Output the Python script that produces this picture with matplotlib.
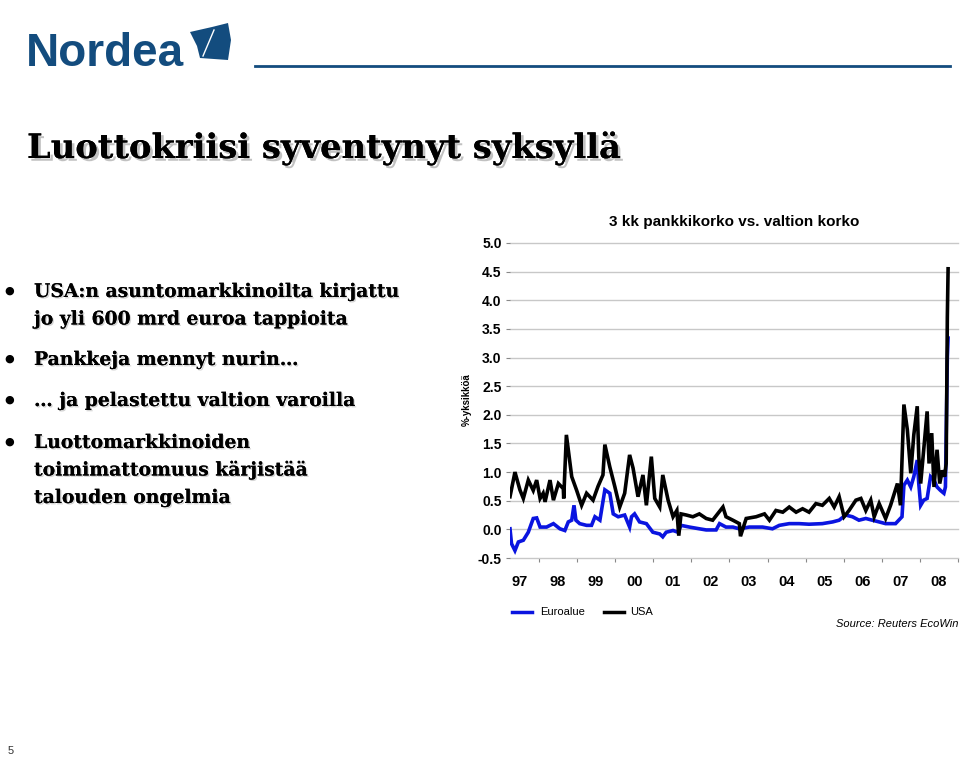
import matplotlib
matplotlib.use("Agg")
import matplotlib.pyplot as plt
import matplotlib.patheffects as pe
from matplotlib.patches import Polygon
import numpy as np

# ---------------- data ----------------
usa_t = [1997.24, 1997.37, 1997.50, 1997.59, 1997.72, 1997.85, 1997.94, 1998.03, 1998.11, 1998.16,
         1998.29, 1998.38, 1998.51, 1998.64, 1998.65, 1998.72, 1998.86, 1998.99, 1999.12, 1999.25,
         1999.42, 1999.55, 1999.68, 1999.73, 1999.86, 1999.99, 2000.12, 2000.25, 2000.38, 2000.47,
         2000.60, 2000.73, 2000.82, 2000.95, 2001.04, 2001.17, 2001.25, 2001.39, 2001.52, 2001.62,
         2001.67, 2001.73, 2001.87, 2002.04, 2002.21, 2002.39, 2002.56, 2002.83, 2002.91, 2003.09,
         2003.26, 2003.29, 2003.44, 2003.70, 2003.92, 2004.05, 2004.22, 2004.40, 2004.57, 2004.75,
         2004.92, 2005.09, 2005.27, 2005.44, 2005.62, 2005.75, 2005.88, 2006.01, 2006.14, 2006.32,
         2006.45, 2006.58, 2006.71, 2006.80, 2006.93, 2007.10, 2007.23, 2007.41, 2007.49, 2007.58,
         2007.67, 2007.76, 2007.84, 2007.93, 2007.97, 2008.02, 2008.10, 2008.19, 2008.24, 2008.31,
         2008.37, 2008.45, 2008.52, 2008.59, 2008.65, 2008.69, 2008.72, 2008.74]
usa_v = [0.57, 1.00, 0.69, 0.54, 0.86, 0.68, 0.86, 0.54, 0.63, 0.48,
         0.86, 0.51, 0.80, 0.71, 0.54, 1.65, 0.92, 0.68, 0.42, 0.63,
         0.51, 0.75, 0.95, 1.48, 1.09, 0.75, 0.39, 0.63, 1.30, 1.07,
         0.57, 0.95, 0.42, 1.27, 0.54, 0.39, 0.95, 0.51, 0.22, 0.33,
         -0.11, 0.27, 0.25, 0.22, 0.27, 0.19, 0.16, 0.39, 0.22, 0.16,
         0.10, -0.12, 0.19, 0.22, 0.27, 0.16, 0.33, 0.30, 0.39, 0.30,
         0.36, 0.30, 0.45, 0.42, 0.54, 0.39, 0.57, 0.22, 0.33, 0.51,
         0.54, 0.33, 0.51, 0.22, 0.45, 0.19, 0.42, 0.80, 0.42, 2.18,
         1.74, 0.98, 1.65, 2.15, 1.27, 0.80, 1.39, 2.06, 1.15, 1.68,
         0.74, 1.39, 0.80, 1.03, 0.92, 1.15, 3.70, 4.55]

euro_t = [1997.24, 1997.28, 1997.37, 1997.46, 1997.59, 1997.72, 1997.85, 1997.94, 1998.03, 1998.20,
          1998.38, 1998.55, 1998.68, 1998.77, 1998.86, 1998.92, 1998.97, 1999.07, 1999.25, 1999.38,
          1999.47, 1999.60, 1999.73, 1999.86, 1999.95, 2000.08, 2000.25, 2000.38, 2000.43, 2000.51,
          2000.64, 2000.82, 2000.99, 2001.17, 2001.25, 2001.34, 2001.52, 2001.65, 2001.73, 2001.95,
          2002.21, 2002.39, 2002.65, 2002.74, 2002.91, 2003.09, 2003.26, 2003.52, 2003.87, 2004.13,
          2004.31, 2004.57, 2004.83, 2005.09, 2005.44, 2005.71, 2005.88, 2006.05, 2006.23, 2006.40,
          2006.58, 2006.75, 2006.93, 2007.10, 2007.36, 2007.53, 2007.58, 2007.67, 2007.76, 2007.84,
          2007.93, 2007.97, 2008.02, 2008.10, 2008.19, 2008.28, 2008.37, 2008.45, 2008.54, 2008.63,
          2008.67, 2008.72, 2008.74]
euro_v = [0.01, -0.25, -0.37, -0.22, -0.19, -0.05, 0.19, 0.20, 0.04, 0.04,
          0.10, 0.01, -0.02, 0.13, 0.16, 0.42, 0.16, 0.10, 0.07, 0.07,
          0.22, 0.16, 0.69, 0.63, 0.27, 0.22, 0.25, 0.04, 0.22, 0.27,
          0.13, 0.10, -0.05, -0.08, -0.13, -0.05, -0.02, -0.05, 0.07, 0.04,
          0.01, -0.01, -0.01, 0.10, 0.04, 0.04, 0.01, 0.04, 0.04, 0.01,
          0.07, 0.10, 0.10, 0.09, 0.10, 0.13, 0.16, 0.25, 0.22, 0.16,
          0.19, 0.16, 0.13, 0.10, 0.10, 0.22, 0.77, 0.86, 0.74, 0.92,
          1.21, 0.80, 0.42, 0.51, 0.54, 0.92, 0.86, 0.74, 0.68, 0.63,
          0.74, 3.00, 3.34]

year_labels = ["97", "98", "99", "00", "01", "02", "03", "04", "05", "06", "07", "08"]
years = list(range(1997, 2009))
y_ticks = [-0.5, 0.0, 0.5, 1.0, 1.5, 2.0, 2.5, 3.0, 3.5, 4.0, 4.5, 5.0]

chart_title = "3 kk pankkikorko vs. valtion korko"
y_label = "%-yksikköä"
series_names = ["Euroalue", "USA"]
source = "Source: Reuters EcoWin"
slide_title = "Luottokriisi syventynyt syksyllä"
bullets = [
    ["USA:n asuntomarkkinoilta kirjattu", "jo yli 600 mrd euroa tappioita"],
    ["Pankkeja mennyt nurin\u2026"],
    ["\u2026 ja pelastettu valtion varoilla"],
    ["Luottomarkkinoiden", "toimimattomuus kärjistää", "talouden ongelmia"],
]

# ---------------- figure ----------------
W, H = 960, 780
fig = plt.figure(figsize=(9.6, 7.8), dpi=100)
fig.patch.set_facecolor("white")

def fx(x):
    return x / W

def fy(y):
    return 1 - y / H

navy = "#134c7e"

# Logo
fig.text(fx(26), fy(66), "Nordea", fontsize=33, fontweight="bold", color=navy,
         family="Liberation Sans", ha="left", va="baseline")
sail = Polygon([[fx(190), fy(32)], [fx(212), fy(27)], [fx(228), fy(23)], [fx(231), fy(40)],
                [fx(228), fy(60)], [fx(200), fy(58)], [fx(197), fy(46)]],
               closed=True, transform=fig.transFigure, facecolor=navy, edgecolor="none")
fig.patches.append(sail)
fig.add_artist(plt.Line2D([fx(214), fx(203)], [fy(30), fy(56)], transform=fig.transFigure,
                          color="white", lw=1.0))
fig.add_artist(plt.Line2D([fx(255), fx(950)], [fy(66), fy(66)], transform=fig.transFigure,
                          color=navy, lw=2))

# Slide title with shadow
fig.text(fx(27), fy(158), slide_title, fontsize=24.3, fontweight="bold", color="black",
         family="DejaVu Serif", ha="left", va="baseline",
         path_effects=[pe.withSimplePatchShadow(offset=(2, -2), shadow_rgbFace="#999999", alpha=0.6),
                       pe.Normal()])

# Bullets
line_h = 27.5
starts = [297, 365, 406, 448]
for lines, y0 in zip(bullets, starts):
    fig.text(fx(4), fy(y0 - 3), "\u25cf", fontsize=8, color="black", ha="left", va="baseline",
             family="DejaVu Sans")
    for i, ln in enumerate(lines):
        fig.text(fx(34), fy(y0 + i * line_h), ln, fontsize=13.5, fontweight="bold", color="black",
                 family="DejaVu Serif", ha="left", va="baseline",
                 path_effects=[pe.withSimplePatchShadow(offset=(1, -1), shadow_rgbFace="#aaaaaa", alpha=0.5),
                               pe.Normal()])

# Page number
fig.text(fx(8), fy(754), "5", fontsize=8, color="#333333", family="Liberation Sans")

# ---------------- chart ----------------
x0, x1 = 510, 958
y_top, y_bot = 243, 558
ax = fig.add_axes([fx(x0), fy(y_bot), (x1 - x0) / W, (y_bot - y_top) / H])
ax.set_facecolor("none")
ax.set_xlim(1997.24, 2009.0)
ax.set_ylim(-0.5, 5.0)

ax.plot(euro_t, euro_v, color="#0a14e0", lw=2.6, solid_joinstyle="miter", zorder=3)
ax.plot(usa_t, usa_v, color="black", lw=2.6, solid_joinstyle="miter", zorder=4)

ax.set_yticks(y_ticks)
ax.set_yticklabels([f"{v:.1f}" for v in y_ticks], fontsize=10, fontweight="bold",
                   family="Liberation Sans")
ax.yaxis.grid(True, color="#c8c8c8", lw=1.0, zorder=0, clip_on=False)
ax.set_axisbelow(True)
for s in ax.spines.values():
    s.set_visible(False)
ax.tick_params(axis="y", length=3, width=0.8, color="#888888", pad=3)

ax.set_xticks(list(range(1998, 2010)))
ax.set_xticklabels([])
ax.tick_params(axis="x", which="major", length=3, width=0.8, color="#888888", direction="out")
ax.set_xticks([y + 0.5 for y in years], minor=True)
ax.set_xticklabels(year_labels, minor=True, fontsize=10.5, fontweight="bold",
                   family="Liberation Sans")
ax.tick_params(axis="x", which="minor", length=0, pad=12)

ax.set_title(chart_title, fontsize=11, fontweight="bold", family="Liberation Sans", pad=12.5,
             x=0.5)
fig.text(fx(467), fy(400), y_label, rotation=90, fontsize=7, fontweight="bold",
         family="Liberation Sans", ha="center", va="center")

# Legend
ly = 612
fig.add_artist(plt.Line2D([fx(512), fx(532)], [fy(ly), fy(ly)], transform=fig.transFigure,
                          color="#0a14e0", lw=2.5))
fig.text(fx(540), fy(ly), series_names[0], fontsize=8, family="Liberation Sans", va="center")
fig.add_artist(plt.Line2D([fx(604), fx(624)], [fy(ly), fy(ly)], transform=fig.transFigure,
                          color="black", lw=2.5))
fig.text(fx(630), fy(ly), series_names[1], fontsize=8, family="Liberation Sans", va="center")
fig.text(fx(958), fy(624), source, fontsize=8, style="italic", family="Liberation Sans",
         ha="right", va="center")

fig.savefig("out.png", dpi=100, facecolor="white")
